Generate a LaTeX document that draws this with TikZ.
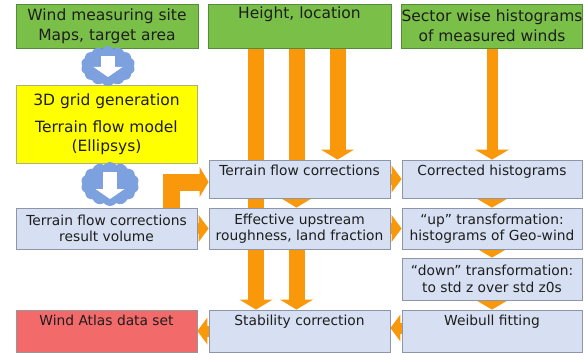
\documentclass[tikz,border=0pt]{standalone}
\usepackage{fontspec}
\setsansfont{DejaVu Sans}
\usetikzlibrary{arrows.meta,shapes.symbols}
\definecolor{gfil}{RGB}{122,192,72}
\definecolor{gbrd}{RGB}{85,140,60}
\definecolor{yfil}{RGB}{255,255,0}
\definecolor{ybrd}{RGB}{175,175,120}
\definecolor{bfil}{RGB}{214,224,242}
\definecolor{bbrd}{RGB}{140,150,168}
\definecolor{rfil}{RGB}{242,106,106}
\definecolor{rbrd}{RGB}{150,150,155}
\definecolor{orng}{RGB}{250,152,12}
\definecolor{cldb}{RGB}{125,160,222}
\definecolor{txt}{RGB}{30,30,30}
\pgfdeclarelayer{bg}
\pgfsetlayers{bg,main}

\begin{document}
\begin{tikzpicture}[x=1pt,y=-1pt,
  box/.style={draw=bbrd,fill=bfil,line width=0.8pt,inner sep=0pt,
              minimum width=181pt,text=txt,align=center,
              font=\sffamily\fontsize{13.8}{16.5}\selectfont},
  gn/.style={box,draw=gbrd,fill=gfil,minimum height=44pt,
             font=\sffamily\fontsize{15.5}{20}\selectfont},
  ye/.style={box,draw=ybrd,fill=yfil,
             font=\sffamily\fontsize{15.5}{19}\selectfont},
  rd/.style={box,draw=rbrd,fill=rfil},
  toptext/.style={inner ysep=4pt,text height=11pt,text depth=#1},
  cld/.style={cloud,cloud puffs=14,cloud puff arc=100,cloud ignores aspect,
              fill=cldb,draw=none,inner sep=0pt},
  wa/.style={white,line width=14pt,
             -{Triangle[width=29pt,length=10pt,line width=0pt]}},
  fat/.style={orng,line width=16pt,
              -{Triangle[width=33pt,length=10pt,line width=0pt]}},
  thin/.style={orng,line width=11pt,
               -{Triangle[width=34pt,length=10pt,line width=0pt]}},
  side/.style={orng,line width=11pt,
               -{Triangle[width=27pt,length=10pt,line width=0pt]}}]
  \useasboundingbox (0,0) rectangle (584,353);
  \node[gn,minimum width=182pt] (site) at (107,26)
    {Wind measuring site\\Maps, target area};
  \node[gn,minimum width=183pt,inner ysep=3pt,text height=12pt,
        text depth=26pt] (hloc) at (299.5,26) {Height, location};
  \node[gn,minimum width=180pt] (sect) at (492,26)
    {Sector wise histograms\\of measured winds};
  \node[ye,minimum height=78pt] (grid) at (106.5,124)
    {3D grid generation\\[8pt]Terrain flow model\\(Ellipsys)};
  \node[box,minimum height=41pt] (res) at (106.5,228.5)
    {Terrain flow corrections\\result volume};
  \node[rd,toptext=23pt] (atlas) at (106.5,331) {Wind Atlas data set};
  \node[box,toptext=19pt] (tfc) at (299.5,179) {Terrain flow corrections};
  \node[box,minimum height=41pt] (eff) at (299.5,228.5)
    {Effective upstream\\roughness, land fraction};
  \node[box,toptext=23pt] (stab) at (299.5,331) {Stability correction};
  \node[box,minimum width=180pt,toptext=19pt] (corr) at (492,179)
    {Corrected histograms};
  \node[box,minimum width=180pt,minimum height=41pt] (up) at (492,228.5)
    {“up” transformation:\\histograms of Geo-wind};
  \node[box,minimum width=180pt,minimum height=42pt] (down) at (492,279)
    {“down” transformation:\\to std z over std z0s};
  \node[box,minimum width=180pt,toptext=23pt] (weib) at (492,331)
    {Weibull fitting};
  \node[cld,minimum width=54pt,minimum height=40pt] (cl1) at (108,66) {};
  \node[cld,minimum width=58pt,minimum height=44pt] (cl2) at (110,184) {};
  \draw[wa] ([yshift=10pt]cl1.center) -- ([yshift=-11pt]cl1.center);
  \draw[wa] ([yshift=12pt]cl2.center) -- ([yshift=-15pt]cl2.center);
  \begin{pgfonlayer}{bg}
    \draw[fat] ([xshift=-43.5pt]hloc.south) -- ([xshift=-43.5pt]stab.north);
    \draw[fat] ([xshift=-3pt]hloc.south) -- ([xshift=-3pt]eff.north);
    \draw[fat] ([xshift=-3pt]eff.south) -- ([xshift=-3pt]stab.north);
    \draw[fat] ([xshift=38pt]hloc.south) -- ([xshift=38pt]tfc.north);
    \draw[thin] (sect) -- (corr);
    \draw[thin] (corr) -- (up);
    \draw[thin] (up) -- (down);
    \draw[thin] (down) -- (weib);
    \draw[side] (tfc) -- (corr);
    \draw[side] (eff) -- (up);
    \draw[side] (res) -- (eff);
    \draw[side] ([yshift=3pt]weib.west) -- ([yshift=3pt]stab.east);
    \draw[side] (stab) -- (atlas);
    \draw[orng,line width=17pt,line join=miter,
          -{Triangle[width=30pt,length=9pt,line width=0pt]}]
      ([xshift=65pt]res.north) |- ([yshift=-3pt]tfc.west);
  \end{pgfonlayer}
\end{tikzpicture}
\end{document}
